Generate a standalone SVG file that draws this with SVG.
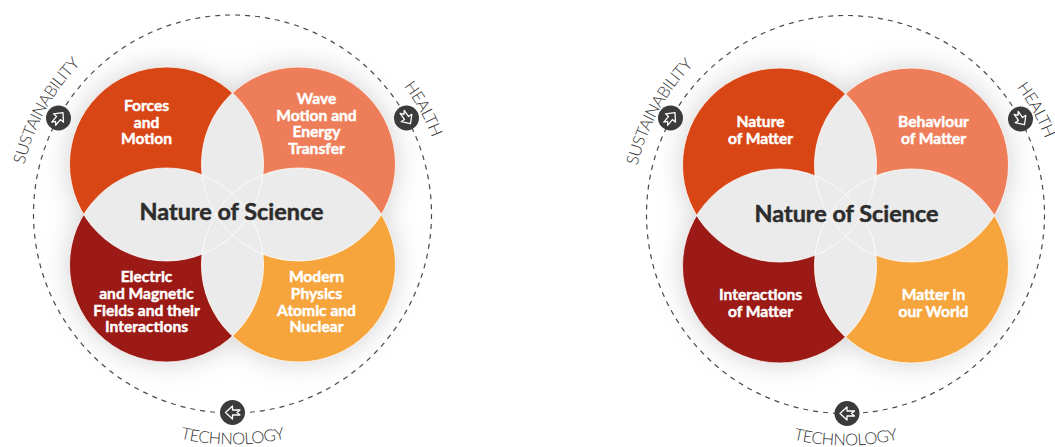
<svg xmlns="http://www.w3.org/2000/svg" xmlns:xlink="http://www.w3.org/1999/xlink" width="1055" height="447" viewBox="0 0 1055 447">
<defs>
<style>
.ring{fill:none;stroke:#4a4a4a;stroke-width:1.2;stroke-dasharray:5 5}
.icon{fill:#3b3b3b}
.arr{fill:none;stroke:#fff;stroke-width:1.3;stroke-linejoin:round}
.lens{fill:#ebebeb}
.edge{fill:none;stroke:#fff;stroke-width:1;stroke-opacity:0.75}
.lbl{font-family:Lato,"Noto Sans",sans-serif;font-weight:700;font-size:15.6px;fill:#fff;stroke:#fff;stroke-width:0.45;text-anchor:middle}
.ctr{font-family:Lato,"Noto Sans",sans-serif;font-weight:700;font-size:23.4px;fill:#2d2d2d;stroke:#2d2d2d;stroke-width:0.5;text-anchor:middle}
.theme{font-family:Lato,"Noto Sans",sans-serif;font-weight:300;font-size:16.5px;letter-spacing:-0.5px;fill:#333;text-anchor:middle}
.tl{fill:#d94616}.tr{fill:#ee7e59}.bl{fill:#9b1a15}.br{fill:#f6a43c}
</style>
<filter id="halo" x="-50%" y="-50%" width="200%" height="200%"><feGaussianBlur stdDeviation="14"/></filter>
<clipPath id="kTL"><circle cx="-66" cy="-50.5" r="97"/></clipPath>
<clipPath id="kTR"><circle cx="66" cy="-50.5" r="97"/></clipPath>
<clipPath id="kBL"><circle cx="-66" cy="50.5" r="97"/></clipPath>
<clipPath id="kBR"><circle cx="66" cy="50.5" r="97"/></clipPath>
<path id="arcS" d="M -210 40.8 A 214 214 0 0 1 -76.7 -199.8"/>
<path id="arcH" d="M 76.7 -199.8 A 214 214 0 0 1 210 40.8"/>
<path id="arcT" d="M -147.8 176.2 A 230 230 0 0 0 147.8 176.2"/>
<path id="arrow" d="M7,0 L0,-6.5 L0,-2.5 L-7.5,-2.5 L-4.5,0 L-7.5,2.5 L0,2.5 L0,6.5 Z"/>
</defs>
<rect width="1055" height="447" fill="#fff"/>

<!-- LEFT DIAGRAM -->
<g id="diagram-left" transform="translate(232.5,214.5)">
  <g id="halo-left" fill="#8a8a8a" opacity="0.4" filter="url(#halo)">
    <circle cx="-66" cy="-50.5" r="97"/><circle cx="66" cy="-50.5" r="97"/>
    <circle cx="-66" cy="50.5" r="97"/><circle cx="66" cy="50.5" r="97"/>
  </g>
  <g id="connectors-left">
    <circle class="ring" cx="0" cy="-0.5" r="199"/>
  </g>
  <g id="node-forces">
    <circle class="tl" cx="-66" cy="-50.5" r="97"/>
  </g>
  <g id="node-wave">
    <circle class="tr" cx="66" cy="-50.5" r="97"/>
  </g>
  <g id="node-electric">
    <circle class="bl" cx="-66" cy="50.5" r="97"/>
  </g>
  <g id="node-modern">
    <circle class="br" cx="66" cy="50.5" r="97"/>
  </g>
  <g id="node-nos-left">
    <circle class="lens" cx="-66" cy="-50.5" r="97" clip-path="url(#kTR)"/>
    <circle class="lens" cx="-66" cy="-50.5" r="97" clip-path="url(#kBL)"/>
    <circle class="lens" cx="-66" cy="-50.5" r="97" clip-path="url(#kBR)"/>
    <circle class="lens" cx="66" cy="-50.5" r="97" clip-path="url(#kBL)"/>
    <circle class="lens" cx="66" cy="-50.5" r="97" clip-path="url(#kBR)"/>
    <circle class="lens" cx="-66" cy="50.5" r="97" clip-path="url(#kBR)"/>
    <circle class="edge" cx="-66" cy="-50.5" r="97"/><circle class="edge" cx="66" cy="-50.5" r="97"/>
    <circle class="edge" cx="-66" cy="50.5" r="97"/><circle class="edge" cx="66" cy="50.5" r="97"/>
    <text class="ctr" x="-1" y="5">Nature of Science</text>
  </g>
  <text class="lbl"><tspan x="-86" y="-103.5">Forces</tspan><tspan x="-86" y="-87">and</tspan><tspan x="-86" y="-70.5">Motion</tspan></text>
  <text class="lbl"><tspan x="84" y="-110.5">Wave</tspan><tspan x="84" y="-93.8">Motion and</tspan><tspan x="84" y="-77.2">Energy</tspan><tspan x="84" y="-60.5">Transfer</tspan></text>
  <text class="lbl"><tspan x="-86" y="67.8">Electric</tspan><tspan x="-86" y="84.5">and Magnetic</tspan><tspan x="-86" y="101.2">Fields and their</tspan><tspan x="-86" y="117.8">Interactions</tspan></text>
  <text class="lbl"><tspan x="84" y="67.8">Modern</tspan><tspan x="84" y="84.5">Physics</tspan><tspan x="84" y="101.2">Atomic and</tspan><tspan x="84" y="117.8">Nuclear</tspan></text>
  <g id="theme-sustainability-left">
    <circle class="icon" cx="-174" cy="-96.5" r="12.5"/>
    <use xlink:href="#arrow" class="arr" transform="translate(-174,-96.5) rotate(-50)"/>
    <text class="theme"><textPath xlink:href="#arcS" startOffset="50%">SUSTAINABILITY</textPath></text>
  </g>
  <g id="theme-health-left">
    <circle class="icon" cx="174" cy="-96.5" r="12.5"/>
    <use xlink:href="#arrow" class="arr" transform="translate(174,-96.5) rotate(55)"/>
    <text class="theme"><textPath xlink:href="#arcH" startOffset="50%">HEALTH</textPath></text>
  </g>
  <g id="theme-technology-left">
    <circle class="icon" cx="0" cy="198" r="12.5"/>
    <use xlink:href="#arrow" class="arr" transform="translate(0,198) rotate(180)"/>
    <text class="theme"><textPath xlink:href="#arcT" startOffset="50%">TECHNOLOGY</textPath></text>
  </g>
</g>

<!-- RIGHT DIAGRAM -->
<g id="diagram-right" transform="translate(845.5,215.5)">
  <g id="halo-right" fill="#8a8a8a" opacity="0.4" filter="url(#halo)">
    <circle cx="-66" cy="-50.5" r="97"/><circle cx="66" cy="-50.5" r="97"/>
    <circle cx="-66" cy="50.5" r="97"/><circle cx="66" cy="50.5" r="97"/>
  </g>
  <g id="connectors-right">
    <circle class="ring" cx="0" cy="-1" r="199"/>
  </g>
  <g id="node-nature-matter">
    <circle class="tl" cx="-66" cy="-50.5" r="97"/>
  </g>
  <g id="node-behaviour">
    <circle class="tr" cx="66" cy="-50.5" r="97"/>
  </g>
  <g id="node-interactions">
    <circle class="bl" cx="-66" cy="50.5" r="97"/>
  </g>
  <g id="node-world">
    <circle class="br" cx="66" cy="50.5" r="97"/>
  </g>
  <g id="node-nos-right">
    <circle class="lens" cx="-66" cy="-50.5" r="97" clip-path="url(#kTR)"/>
    <circle class="lens" cx="-66" cy="-50.5" r="97" clip-path="url(#kBL)"/>
    <circle class="lens" cx="-66" cy="-50.5" r="97" clip-path="url(#kBR)"/>
    <circle class="lens" cx="66" cy="-50.5" r="97" clip-path="url(#kBL)"/>
    <circle class="lens" cx="66" cy="-50.5" r="97" clip-path="url(#kBR)"/>
    <circle class="lens" cx="-66" cy="50.5" r="97" clip-path="url(#kBR)"/>
    <circle class="edge" cx="-66" cy="-50.5" r="97"/><circle class="edge" cx="66" cy="-50.5" r="97"/>
    <circle class="edge" cx="-66" cy="50.5" r="97"/><circle class="edge" cx="66" cy="50.5" r="97"/>
    <text class="ctr" x="1" y="6">Nature of Science</text>
  </g>
  <text class="lbl"><tspan x="-85" y="-88.8">Nature</tspan><tspan x="-85" y="-71.5">of Matter</tspan></text>
  <text class="lbl"><tspan x="88" y="-88.8">Behaviour</tspan><tspan x="88" y="-71.5">of Matter</tspan></text>
  <text class="lbl"><tspan x="-85" y="84.5">Interactions</tspan><tspan x="-85" y="101.8">of Matter</tspan></text>
  <text class="lbl"><tspan x="88" y="84.5">Matter in</tspan><tspan x="88" y="101.8">our World</tspan></text>
  <g id="theme-sustainability-right">
    <circle class="icon" cx="-175" cy="-97.5" r="12.5"/>
    <use xlink:href="#arrow" class="arr" transform="translate(-175,-97.5) rotate(-50)"/>
    <text class="theme"><textPath xlink:href="#arcS" startOffset="50%">SUSTAINABILITY</textPath></text>
  </g>
  <g id="theme-health-right">
    <circle class="icon" cx="175" cy="-96.5" r="12.5"/>
    <use xlink:href="#arrow" class="arr" transform="translate(175,-96.5) rotate(55)"/>
    <text class="theme"><textPath xlink:href="#arcH" startOffset="50%">HEALTH</textPath></text>
  </g>
  <g id="theme-technology-right">
    <circle class="icon" cx="1.5" cy="198" r="12.5"/>
    <use xlink:href="#arrow" class="arr" transform="translate(1.5,198) rotate(180)"/>
    <text class="theme"><textPath xlink:href="#arcT" startOffset="50%">TECHNOLOGY</textPath></text>
  </g>
</g>
</svg>
